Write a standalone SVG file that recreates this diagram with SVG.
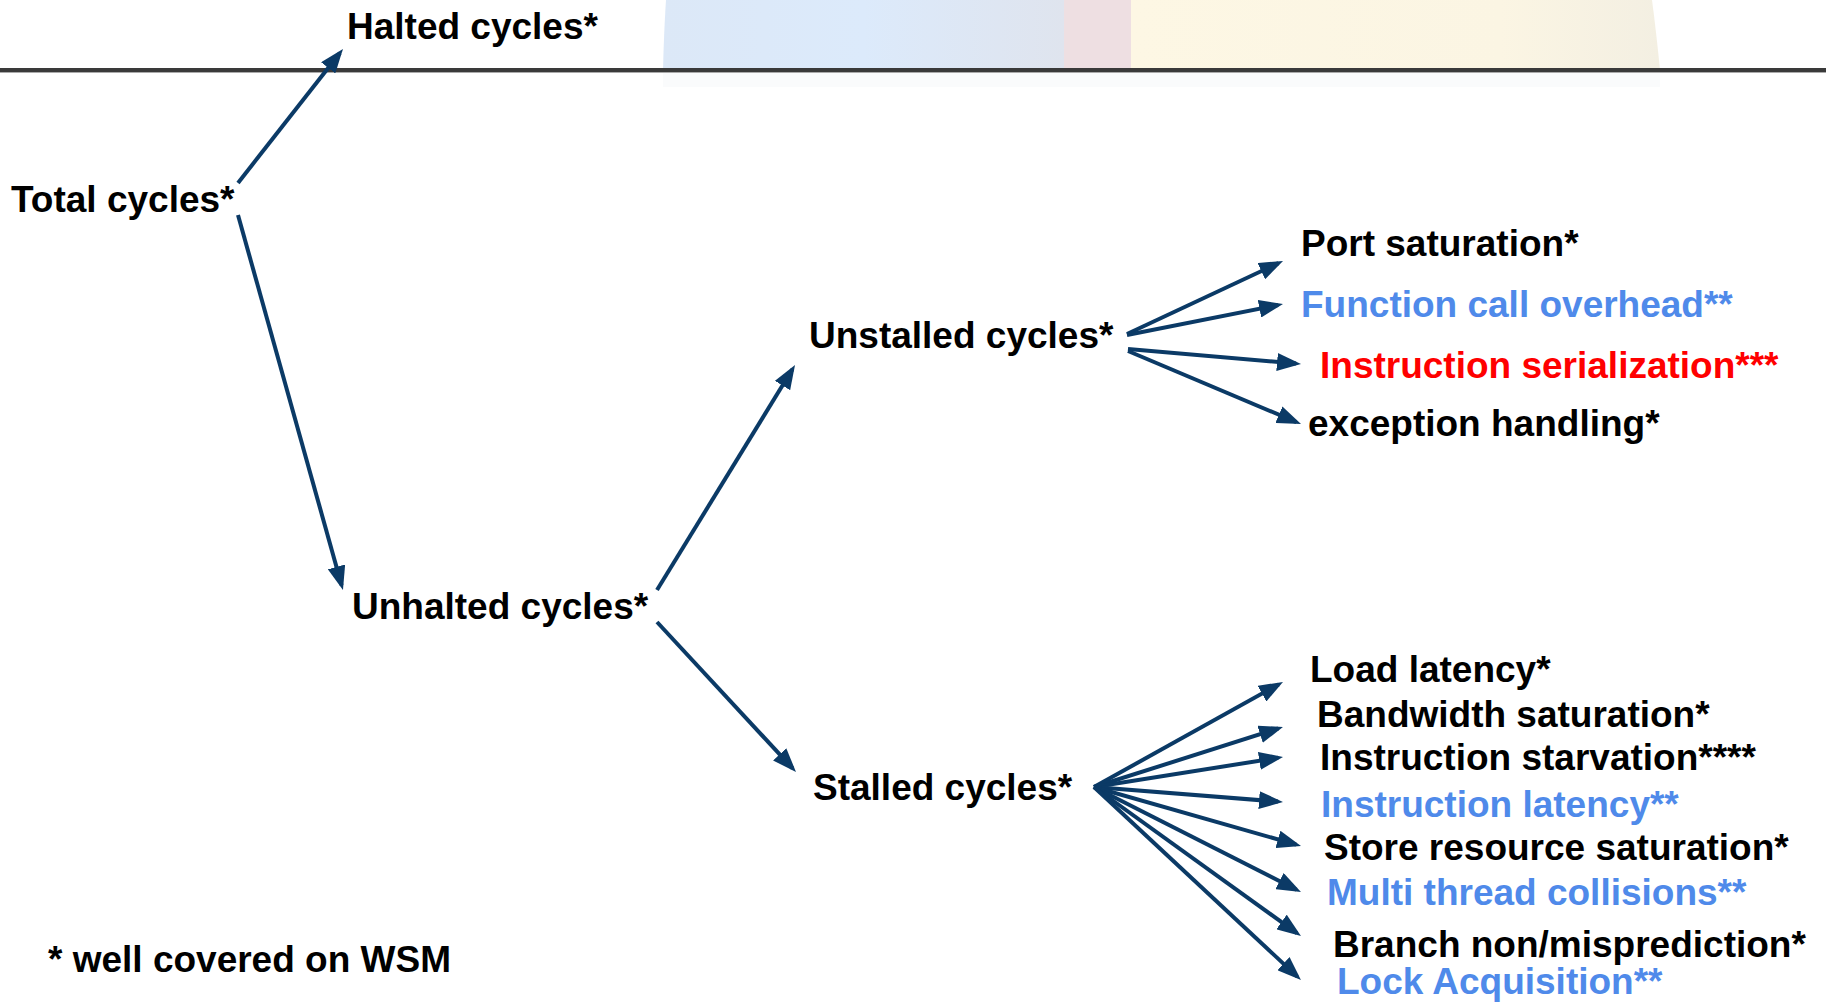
<svg xmlns="http://www.w3.org/2000/svg" width="1826" height="1002" viewBox="0 0 1826 1002">
<defs>
<style>
.t{font-family:"Liberation Sans",Arial,sans-serif;font-weight:bold;font-size:37px;fill:#000}
.b{fill:#4f8aea}
.r{fill:#ff0000}
.c{stroke:#0b3a66;stroke-width:4;fill:none;marker-end:url(#ah)}
</style>
<marker id="ah" viewBox="0 0 24 18" refX="19" refY="9" markerWidth="24" markerHeight="18" markerUnits="userSpaceOnUse" orient="auto">
<path d="M0,0 L24,9 L0,18 z" fill="#0b3a66"/>
</marker>
<linearGradient id="gb" x1="0" y1="0" x2="1" y2="0">
<stop offset="0" stop-color="#dce8f7"/>
<stop offset="0.5" stop-color="#dceafb"/>
<stop offset="1" stop-color="#dfe4ee"/>
</linearGradient>
<linearGradient id="gy" x1="0" y1="0" x2="1" y2="0">
<stop offset="0" stop-color="#fdf7e4"/>
<stop offset="0.7" stop-color="#fbf5e3"/>
<stop offset="1" stop-color="#f3efe2"/>
</linearGradient>
</defs>
<rect width="1826" height="1002" fill="#fff"/>
<g id="background">
<path d="M666,0 L1064,0 L1064,70 L663,70 Q664,30 666,0 z" fill="url(#gb)"/>
<path d="M1064,0 L1131,0 L1131,70 L1064,70 z" fill="#eedfe2"/>
<path d="M1131,0 L1652,0 Q1656,30 1660,70 L1131,70 z" fill="url(#gy)"/>
<rect x="663" y="71" width="997" height="16" fill="#f7f8fa" opacity="0.6"/>
<rect x="0" y="68" width="1826" height="4" fill="#3a3a3a"/>
<rect x="0" y="72" width="1826" height="1" fill="#aaaaaa"/>
</g>
<g id="connectors">
<line class="c" x1="238" y1="183" x2="339.9" y2="52.9"/>
<line class="c" x1="238" y1="215" x2="341.6" y2="585.2"/>
<line class="c" x1="657" y1="590" x2="792.4" y2="369.3"/>
<line class="c" x1="657" y1="622" x2="792.6" y2="768.3"/>
<line class="c" x1="1127" y1="334" x2="1278.5" y2="263.1"/>
<line class="c" x1="1127" y1="335" x2="1278.1" y2="305"/>
<line class="c" x1="1128" y1="349" x2="1296" y2="363.6"/>
<line class="c" x1="1128" y1="351" x2="1296.4" y2="422.1"/>
<line class="c" x1="1094" y1="787" x2="1278.6" y2="684.4"/>
<line class="c" x1="1094" y1="787" x2="1278.2" y2="728.5"/>
<line class="c" x1="1094" y1="787" x2="1278.1" y2="757.8"/>
<line class="c" x1="1094" y1="787" x2="1278" y2="801.6"/>
<line class="c" x1="1094" y1="787" x2="1296.2" y2="844.6"/>
<line class="c" x1="1094" y1="787" x2="1296.5" y2="889.7"/>
<line class="c" x1="1094" y1="787" x2="1296.9" y2="933.1"/>
<line class="c" x1="1094" y1="787" x2="1297.3" y2="976.6"/>
</g>
<g id="n-halted"><text class="t" x="347" y="39">Halted cycles*</text></g>
<g id="n-total"><text class="t" x="11" y="212">Total cycles*</text></g>
<g id="n-unhalted"><text class="t" x="352" y="619">Unhalted cycles*</text></g>
<g id="n-unstalled"><text class="t" x="809" y="348">Unstalled cycles*</text></g>
<g id="n-stalled"><text class="t" x="813" y="800">Stalled cycles*</text></g>
<g id="n-port"><text class="t" x="1301" y="256">Port saturation*</text></g>
<g id="n-func"><text class="t b" x="1301" y="317">Function call overhead**</text></g>
<g id="n-iser"><text class="t r" x="1320" y="378">Instruction serialization***</text></g>
<g id="n-exc"><text class="t" x="1308" y="436">exception handling*</text></g>
<g id="n-load"><text class="t" x="1310" y="682">Load latency*</text></g>
<g id="n-bw"><text class="t" x="1317" y="727">Bandwidth saturation*</text></g>
<g id="n-starv"><text class="t" x="1320" y="770">Instruction starvation****</text></g>
<g id="n-ilat"><text class="t b" x="1321" y="817">Instruction latency**</text></g>
<g id="n-store"><text class="t" x="1324" y="860">Store resource saturation*</text></g>
<g id="n-multi"><text class="t b" x="1327" y="905">Multi thread collisions**</text></g>
<g id="n-branch"><text class="t" x="1333" y="957">Branch non/misprediction*</text></g>
<g id="n-lock"><text class="t b" x="1337" y="994">Lock Acquisition**</text></g>
<g id="legend"><text class="t" x="48" y="972">* well covered on WSM</text></g>
</svg>
